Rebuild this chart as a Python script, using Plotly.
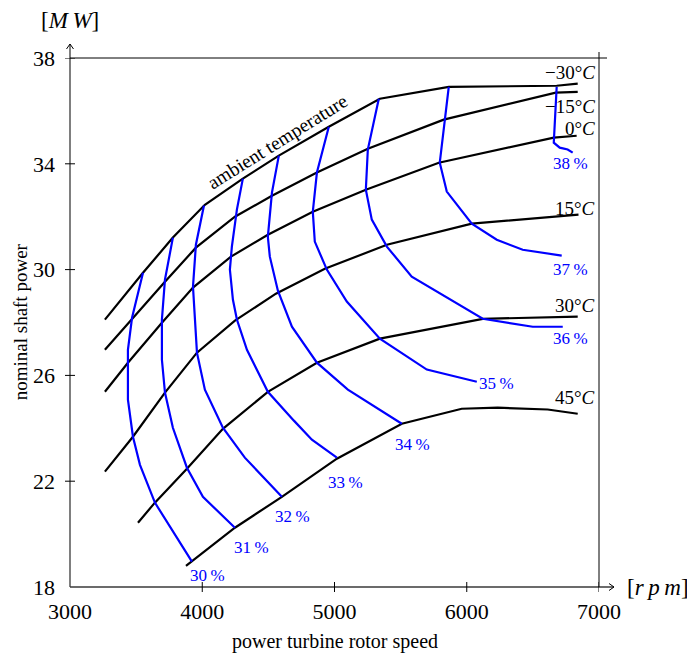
import plotly.graph_objects as go

# ---------------- data ----------------
temp_labels = ["−30°<i>C</i>", "−15°<i>C</i>", "0°<i>C</i>", "15°<i>C</i>", "30°<i>C</i>", "45°<i>C</i>"]

t_m30_x = [3264, 3552, 3778, 4020, 4307, 4579, 4957, 5343, 5864, 6680, 6839]
t_m30_y = [28.11, 29.88, 31.21, 32.45, 33.44, 34.31, 35.40, 36.46, 36.91, 36.95, 37.03]
t_m15_x = [3264, 3469, 3718, 3952, 4247, 4527, 4867, 5252, 5826, 6673, 6839]
t_m15_y = [26.97, 28.14, 29.54, 30.83, 32.00, 32.79, 33.67, 34.57, 35.67, 36.69, 36.72]
t_0_x = [3264, 3438, 3695, 3930, 4217, 4496, 4836, 5237, 5789, 6658, 6831]
t_0_y = [25.38, 26.48, 27.99, 29.32, 30.49, 31.32, 32.19, 33.02, 34.04, 34.99, 35.06]
t_15_x = [3264, 3476, 3718, 3960, 4247, 4557, 4927, 5396, 6038, 6845]
t_15_y = [22.36, 23.68, 25.35, 26.86, 28.07, 29.09, 30.03, 30.94, 31.74, 32.08]
t_30_x = [3514, 3642, 3884, 4156, 4496, 4867, 5343, 6121, 6839]
t_30_y = [20.43, 21.19, 22.47, 23.98, 25.38, 26.48, 27.39, 28.14, 28.22]
t_45_x = [3877, 4247, 4602, 5018, 5509, 5962, 6234, 6612, 6839]
t_45_y = [18.80, 20.24, 21.41, 22.85, 24.17, 24.74, 24.78, 24.71, 24.55]

eff_labels = ["30\u2009%", "31\u2009%", "32\u2009%", "33\u2009%", "34\u2009%",
              "35\u2009%", "36\u2009%", "37\u2009%", "38\u2009%"]

e30_x = [3552, 3469, 3438, 3438, 3476, 3529, 3642, 3922]
e30_y = [29.88, 28.18, 26.97, 25.08, 23.68, 22.62, 21.19, 18.96]
e31_x = [3778, 3718, 3695, 3695, 3718, 3778, 3884, 4005, 4247]
e31_y = [31.21, 29.62, 28.11, 26.59, 25.35, 24.02, 22.51, 21.41, 20.24]
e32_x = [4013, 3952, 3930, 3960, 4020, 4156, 4322, 4602]
e32_y = [32.42, 30.94, 29.35, 26.86, 25.46, 24.02, 22.89, 21.41]
e33_x = [4307, 4262, 4224, 4209, 4232, 4262, 4338, 4496, 4693, 4829, 5018]
e33_y = [33.44, 32.27, 30.87, 30.00, 28.86, 28.11, 26.97, 25.38, 24.29, 23.57, 22.89]
e34_x = [4579, 4527, 4496, 4511, 4572, 4678, 4867, 5101, 5509]
e34_y = [34.31, 32.91, 31.24, 30.49, 29.20, 27.84, 26.48, 25.46, 24.17]
e35_x = [4957, 4867, 4836, 4851, 4942, 5093, 5343, 5698, 6076]
e35_y = [35.40, 33.67, 32.19, 31.06, 30.00, 28.79, 27.39, 26.22, 25.76]
e36_x = [5335, 5252, 5237, 5282, 5396, 5584, 6121, 6499, 6726]
e36_y = [36.46, 34.54, 33.02, 31.89, 30.87, 29.73, 28.14, 27.84, 27.84]
e37_x = [5864, 5819, 5796, 5849, 6038, 6227, 6423, 6718]
e37_y = [36.91, 34.84, 34.04, 32.95, 31.74, 31.13, 30.75, 30.53]
e38_x = [6680, 6658, 6703, 6763, 6801]
e38_y = [36.91, 34.80, 34.61, 34.54, 34.42]

x_ticks = [3000, 4000, 5000, 6000, 7000]
y_ticks = [18, 22, 26, 30, 34, 38]

# ---------------- label placement (not data) ----------------
temp_label_pos = [(6985, 37.44), (6985, 36.16), (6985, 35.33), (6985, 32.30), (6985, 28.64), (6985, 25.16)]
eff_label_pos = [(4043, 18.43), (4375, 19.49), (4685, 20.66), (5086, 21.94), (5592, 23.38),
                 (6227, 25.69), (6786, 27.39), (6786, 30.00), (6786, 34.00)]

FONT = "Liberation Serif"
BLUE = "#0000ff"

fig = go.Figure()

temps = [(t_m30_x, t_m30_y), (t_m15_x, t_m15_y), (t_0_x, t_0_y),
         (t_15_x, t_15_y), (t_30_x, t_30_y), (t_45_x, t_45_y)]
effs = [(e30_x, e30_y), (e31_x, e31_y), (e32_x, e32_y), (e33_x, e33_y), (e34_x, e34_y),
        (e35_x, e35_y), (e36_x, e36_y), (e37_x, e37_y), (e38_x, e38_y)]

for (xs, ys) in temps:
    fig.add_trace(go.Scatter(x=xs, y=ys, mode="lines", line=dict(color="black", width=2.2),
                             hoverinfo="skip", showlegend=False))
for (xs, ys) in effs:
    fig.add_trace(go.Scatter(x=xs, y=ys, mode="lines", line=dict(color=BLUE, width=2.2),
                             hoverinfo="skip", showlegend=False))

annotations = []
for txt, (x, y) in zip(temp_labels, temp_label_pos):
    annotations.append(dict(x=x, y=y, xref="x", yref="y", text=txt, showarrow=False,
                            xanchor="right", yanchor="middle",
                            font=dict(family=FONT, size=19, color="black")))
for txt, (x, y) in zip(eff_labels, eff_label_pos):
    annotations.append(dict(x=x, y=y, xref="x", yref="y", text=txt, showarrow=False,
                            xanchor="center", yanchor="middle",
                            font=dict(family=FONT, size=17, color=BLUE)))

annotations += [
    dict(x=4572, y=34.84, xref="x", yref="y", text="ambient temperature", showarrow=False,
         textangle=-32, xanchor="center", yanchor="middle",
         font=dict(family=FONT, size=19.5, color="black")),
    dict(x=0.0, y=1.0705, xref="paper", yref="paper", text="[<i>M\u2009W</i>]", showarrow=False,
         xanchor="center", yanchor="middle", font=dict(family=FONT, size=23, color="black")),
    dict(x=1.111, y=0.0, xref="paper", yref="paper", text="[<i>r\u2009p\u2009m</i>]", showarrow=False,
         xanchor="center", yanchor="middle", font=dict(family=FONT, size=23, color="black")),
    dict(x=-0.0935, y=0.5015, xref="paper", yref="paper", text="nominal shaft power", showarrow=False,
         textangle=-90, xanchor="center", yanchor="middle", font=dict(family=FONT, size=19, color="black")),
    dict(x=0.5007, y=-0.1034, xref="paper", yref="paper", text="power turbine rotor speed", showarrow=False,
         xanchor="center", yanchor="middle", font=dict(family=FONT, size=20, color="black")),
]

# axis frame drawn as shapes (pgfplots style)
PX = 1 / 529.0
PY = 1 / 529.0
AX = "#3a3a3a"
shapes = [
    dict(type="line", xref="paper", yref="paper", x0=0, y0=0, x1=0, y1=1 + 14 * PY, line=dict(color=AX, width=1.3)),
    dict(type="line", xref="paper", yref="paper", x0=0, y0=0, x1=1 + 15 * PX, y1=0, line=dict(color=AX, width=1.3)),
    dict(type="path", xref="paper", yref="paper",
         path=f"M {-3.5*PX},{1+9*PY} L 0,{1+14*PY} L {3.5*PX},{1+9*PY}", line=dict(color="black", width=1)),
    dict(type="path", xref="paper", yref="paper",
         path=f"M {1+10*PX},{3.5*PY} L {1+15*PX},0 L {1+10*PX},{-3.5*PY}", line=dict(color="black", width=1)),
    dict(type="line", xref="paper", yref="paper", x0=0, y0=1, x1=1 + 8 * PX, y1=1, line=dict(color="black", width=1)),
    dict(type="line", xref="paper", yref="paper", x0=1, y0=0, x1=1, y1=1 + 6 * PY, line=dict(color="black", width=1)),
]
for xv in x_ticks[1:]:
    shapes.append(dict(type="line", xref="x", yref="paper", x0=xv, x1=xv, y0=-5 * PY, y1=5 * PY,
                       line=dict(color="black", width=1)))
for yv in y_ticks[1:]:
    shapes.append(dict(type="line", xref="paper", yref="y", x0=-5 * PX, x1=5 * PX, y0=yv, y1=yv,
                       line=dict(color="black", width=1)))

# the page body adds an 8px offset; margins compensate so the plot area sits at x 70..599, y 58..587
fig.update_layout(
    width=695, height=661, autosize=False,
    margin=dict(l=62, r=104, t=50, b=82),
    paper_bgcolor="white", plot_bgcolor="white",
    showlegend=False,
    annotations=annotations,
    shapes=shapes,
    xaxis=dict(range=[3000, 7000], showgrid=False, zeroline=False, showline=False,
               tickvals=x_ticks, ticktext=[str(v) for v in x_ticks], ticks="",
               tickfont=dict(family=FONT, size=22, color="black"), ticklabelstandoff=9,
               fixedrange=True),
    yaxis=dict(range=[18, 38], showgrid=False, zeroline=False, showline=False,
               tickvals=y_ticks, ticktext=[str(v) for v in y_ticks], ticks="",
               tickfont=dict(family=FONT, size=22, color="black"), ticklabelstandoff=14,
               fixedrange=True),
)

fig.write_html("out.html")
